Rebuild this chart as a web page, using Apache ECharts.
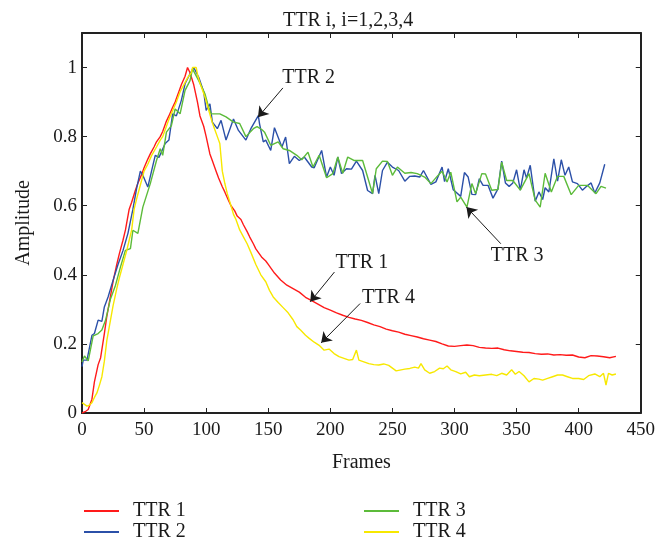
<!DOCTYPE html>
<html>
<head>
<meta charset="utf-8">
<script src="https://cdn.jsdelivr.net/npm/echarts@6/dist/echarts.min.js"></script>
<style>
html,body{margin:0;padding:0;background:#fff;}
#chart{width:658px;height:546px;}
</style>
</head>
<body>
<div id="chart"></div>
<script>
// ---- Data ----
const titleText = 'TTR i, i=1,2,3,4';
const xTicks = [0, 50, 100, 150, 200, 250, 300, 350, 400, 450];
const yTicks = [0, 0.2, 0.4, 0.6, 0.8, 1];
const seriesNames = ['TTR 1', 'TTR 2', 'TTR 3', 'TTR 4'];

const ttr1Frames = [0,3,5,8,10,13,15,18,20,23,25,28,30,33,35,38,40,43,45,48,50,53,55,58,60,63,65,68,70,73,75,78,80,83,85,86,87,88,90,93,95,98,100,103,105,108,110,113,115,118,120,123,125,128,130,133,135,138,140,143,145,148,150,155,160,165,170,175,180,185,190,195,200,205,210,215,220,225,230,235,240,245,250,255,260,265,270,275,280,285,290,295,300,305,310,315,320,325,330,335,340,345,350,355,360,365,370,375,380,385,390,395,400,405,410,415,420,425,430];
const ttr1Values = [0,0.005,0.01,0.04,0.09,0.14,0.16,0.23,0.28,0.34,0.38,0.43,0.46,0.5,0.53,0.59,0.61,0.645,0.665,0.69,0.71,0.735,0.75,0.77,0.785,0.8,0.815,0.845,0.86,0.885,0.9,0.93,0.95,0.975,1.0,1.0,0.985,0.99,0.95,0.9,0.86,0.83,0.8,0.75,0.73,0.7,0.68,0.655,0.64,0.615,0.6,0.585,0.57,0.56,0.545,0.525,0.51,0.49,0.475,0.46,0.45,0.44,0.43,0.405,0.385,0.37,0.36,0.35,0.335,0.325,0.315,0.305,0.298,0.29,0.283,0.277,0.272,0.268,0.262,0.255,0.25,0.243,0.238,0.234,0.228,0.224,0.22,0.215,0.211,0.207,0.2,0.194,0.193,0.195,0.197,0.195,0.19,0.188,0.187,0.188,0.183,0.18,0.178,0.176,0.175,0.172,0.17,0.171,0.168,0.169,0.167,0.168,0.162,0.16,0.166,0.165,0.163,0.16,0.164];

const ttr2Frames = [0,1,4,5,8,10,13,16,18,21,25,29,33,37,41,44,47,49,53,56,59,62,67,70,73,76,80,83,87,90,94,98,100,103,105,109,112,116,122,126,132,136,142,143,146,148,152,155,161,164,167,171,175,179,185,187,193,197,200,203,206,209,213,217,221,226,230,234,236,239,242,246,250,255,260,264,268,272,275,281,285,290,292,295,299,305,308,311,314,317,320,323,327,331,335,338,341,344,347,350,353,356,358,361,365,368,371,373,376,380,383,386,389,392,395,399,403,406,410,413,417,421];
const ttr2Values = [0.134,0.153,0.153,0.15,0.225,0.23,0.269,0.265,0.307,0.336,0.384,0.43,0.47,0.52,0.59,0.65,0.7,0.688,0.654,0.7,0.746,0.74,0.78,0.79,0.866,0.86,0.905,0.953,0.982,1.0,0.972,0.93,0.876,0.895,0.842,0.823,0.847,0.79,0.851,0.818,0.79,0.823,0.861,0.837,0.785,0.79,0.76,0.826,0.77,0.799,0.722,0.743,0.731,0.741,0.712,0.71,0.76,0.683,0.712,0.688,0.741,0.693,0.707,0.706,0.729,0.702,0.644,0.635,0.688,0.635,0.702,0.726,0.712,0.702,0.671,0.685,0.686,0.683,0.702,0.662,0.669,0.712,0.67,0.707,0.646,0.627,0.696,0.683,0.633,0.632,0.678,0.659,0.659,0.622,0.649,0.729,0.666,0.656,0.666,0.704,0.645,0.704,0.68,0.717,0.613,0.64,0.618,0.652,0.64,0.736,0.671,0.733,0.688,0.712,0.669,0.664,0.645,0.655,0.666,0.637,0.666,0.72];

const ttr3Frames = [0,2,5,9,13,16,19,23,27,31,35,39,41,45,49,55,60,63,65,68,72,75,79,83,87,89,94,99,102,104,111,116,122,127,132,138,141,145,147,152,158,162,167,173,177,182,186,191,197,202,206,210,214,219,226,230,234,237,242,246,250,254,260,265,270,276,281,286,290,294,297,302,305,310,314,317,322,325,330,335,338,342,347,353,360,365,369,373,378,383,388,394,400,407,414,418,422];
const ttr3Values = [0.148,0.165,0.151,0.223,0.23,0.24,0.269,0.331,0.37,0.423,0.471,0.476,0.529,0.52,0.596,0.664,0.731,0.765,0.746,0.813,0.832,0.88,0.866,0.934,0.962,0.996,0.962,0.924,0.885,0.866,0.866,0.857,0.842,0.838,0.8,0.823,0.829,0.82,0.813,0.775,0.785,0.765,0.76,0.746,0.733,0.755,0.712,0.746,0.681,0.693,0.741,0.694,0.741,0.731,0.731,0.683,0.635,0.707,0.729,0.728,0.688,0.712,0.694,0.696,0.693,0.683,0.664,0.685,0.7,0.669,0.697,0.611,0.625,0.596,0.664,0.635,0.693,0.692,0.645,0.647,0.726,0.673,0.673,0.645,0.693,0.616,0.596,0.694,0.64,0.685,0.685,0.632,0.659,0.659,0.635,0.656,0.651];

const ttr4Frames = [0,2,4,6,8,10,12,14,16,18,20,22,25,28,30,33,36,38,40,42,44,47,50,53,56,60,63,65,68,70,73,76,79,82,85,88,89,92,93,95,97,99,101,103,105,107,109,111,112,113,115,117,120,122,124,127,130,133,136,140,144,148,151,154,158,162,166,170,173,176,180,183,187,191,195,199,203,207,211,215,218,221,223,227,231,235,239,243,247,250,253,257,260,264,268,271,273,276,280,284,288,291,294,297,301,305,309,312,316,320,325,330,334,338,342,346,349,352,356,360,364,368,371,375,379,383,387,391,395,400,404,408,413,417,420,422,424,427,430];
const ttr4Values = [0.03,0.025,0.02,0.023,0.03,0.045,0.058,0.08,0.105,0.15,0.21,0.25,0.31,0.36,0.39,0.43,0.47,0.5,0.53,0.59,0.62,0.66,0.7,0.72,0.745,0.77,0.79,0.8,0.83,0.85,0.875,0.9,0.93,0.95,0.97,0.985,1.0,1.0,0.98,0.955,0.935,0.915,0.89,0.865,0.84,0.82,0.8,0.78,0.74,0.7,0.665,0.635,0.6,0.575,0.56,0.53,0.51,0.49,0.465,0.43,0.4,0.38,0.355,0.336,0.32,0.305,0.29,0.27,0.25,0.24,0.225,0.216,0.205,0.196,0.182,0.185,0.172,0.163,0.158,0.153,0.155,0.182,0.153,0.148,0.143,0.14,0.139,0.142,0.138,0.13,0.122,0.125,0.127,0.129,0.133,0.13,0.143,0.125,0.115,0.12,0.13,0.128,0.136,0.125,0.12,0.113,0.118,0.105,0.11,0.108,0.11,0.112,0.108,0.115,0.11,0.125,0.112,0.12,0.108,0.09,0.1,0.098,0.095,0.1,0.105,0.11,0.11,0.105,0.1,0.1,0.097,0.108,0.113,0.105,0.115,0.081,0.115,0.11,0.113];

// annotation labels and arrows (data coordinates)
const annoTexts = ['TTR 2', 'TTR 3', 'TTR 1', 'TTR 4'];
const annoTextPos = [[161.3, 0.970], [329.2, 0.454], [204.1, 0.434], [225.6, 0.335]];
const annoArrowFrom = [[161.8, 0.941], [337.3, 0.490], [203.3, 0.408], [224.0, 0.317]];
const annoArrowTo = [[141.7, 0.856], [309.6, 0.596], [183.8, 0.322], [192.6, 0.203]];

const colors = ['#ff1a1a', '#2b50a8', '#5cbb3a', '#f7e800'];

// ---- Build ----
const FONT = '"Liberation Serif", "DejaVu Serif", serif';
const TXT = '#1a1a1a';
function pairs(fr, vals) { return fr.map((f, i) => [f, vals[i]]); }
const allData = [pairs(ttr1Frames, ttr1Values), pairs(ttr2Frames, ttr2Values), pairs(ttr3Frames, ttr3Values), pairs(ttr4Frames, ttr4Values)];

const series = seriesNames.map((n, i) => ({
  name: n,
  type: 'line',
  data: allData[i],
  showSymbol: false,
  symbol: 'none',
  lineStyle: { color: colors[i], width: 1.4 },
  itemStyle: { color: colors[i] },
  z: 2 + i,
  animation: false
}));

series.push({
  name: 'annotations',
  type: 'line',
  data: [],
  silent: true,
  animation: false,
  markLine: {
    silent: true,
    animation: false,
    symbol: ['none', 'arrow'],
    symbolSize: 10,
    lineStyle: { color: '#1a1a1a', width: 1, type: 'solid' },
    label: { show: false },
    emphasis: { disabled: true },
    data: annoArrowFrom.map((s, i) => [{ coord: s }, { coord: annoArrowTo[i] }])
  },
  markPoint: {
    silent: true,
    animation: false,
    symbol: 'circle',
    symbolSize: 0,
    itemStyle: { color: 'transparent' },
    label: {
      show: true, position: 'right', distance: 0,
      formatter: p => p.name,
      fontFamily: FONT, fontSize: 20, color: TXT
    },
    data: annoTexts.map((t, i) => ({ name: t, coord: annoTextPos[i] }))
  }
});

const legendPos = [[84, 501], [84, 522], [364, 501], [364, 522]];
const legends = seriesNames.map((n, i) => ({
  data: [n],
  left: legendPos[i][0], top: legendPos[i][1],
  padding: 0,
  icon: 'rect', itemWidth: 35, itemHeight: 2,
  textStyle: { fontFamily: FONT, fontSize: 20, color: TXT, lineHeight: 20, padding: [0, 0, 0, 9] }
}));

const chart = echarts.init(document.getElementById('chart'), null, { renderer: 'canvas' });
const axisLine = { show: true, onZero: false, lineStyle: { color: '#222', width: 2 } };
const tick = { show: true, inside: true, length: 5, lineStyle: { color: '#222', width: 1 } };

chart.setOption({
  backgroundColor: '#ffffff',
  animation: false,
  color: colors,
  title: {
    text: titleText,
    left: 278, top: 6,
    textStyle: { fontFamily: FONT, fontSize: 20, fontWeight: 'normal', color: TXT }
  },
  legend: legends,
  grid: { left: 82, right: 16, top: 33, bottom: 133, containLabel: false },
  xAxis: [
    {
      type: 'value', min: 0, max: 450, interval: 50, position: 'bottom',
      name: 'Frames', nameLocation: 'middle', nameGap: 40,
      nameTextStyle: { fontFamily: FONT, fontSize: 20, color: TXT },
      axisLine, axisTick: tick,
      axisLabel: { margin: 8, fontFamily: FONT, fontSize: 19, color: TXT,
        formatter: v => xTicks.includes(v) ? String(v) : '' },
      splitLine: { show: false }
    },
    {
      type: 'value', min: 0, max: 450, interval: 50, position: 'top',
      axisLine, axisTick: tick, axisLabel: { show: false }, splitLine: { show: false }
    }
  ],
  yAxis: [
    {
      type: 'value', min: 0, max: 1.1, interval: 0.2, position: 'left',
      name: 'Amplitude', nameLocation: 'middle', nameGap: 48, nameRotate: 90,
      nameTextStyle: { fontFamily: FONT, fontSize: 20, color: TXT },
      axisLine, axisTick: tick,
      axisLabel: { margin: 5, fontFamily: FONT, fontSize: 19, color: TXT,
        formatter: v => yTicks.some(t => Math.abs(t - v) < 1e-9) ? String(+v.toFixed(1)) : '' },
      splitLine: { show: false }
    },
    {
      type: 'value', min: 0, max: 1.1, interval: 0.2, position: 'right',
      axisLine, axisTick: tick, axisLabel: { show: false }, splitLine: { show: false }
    }
  ],
  series
});
</script>
</body>
</html>
